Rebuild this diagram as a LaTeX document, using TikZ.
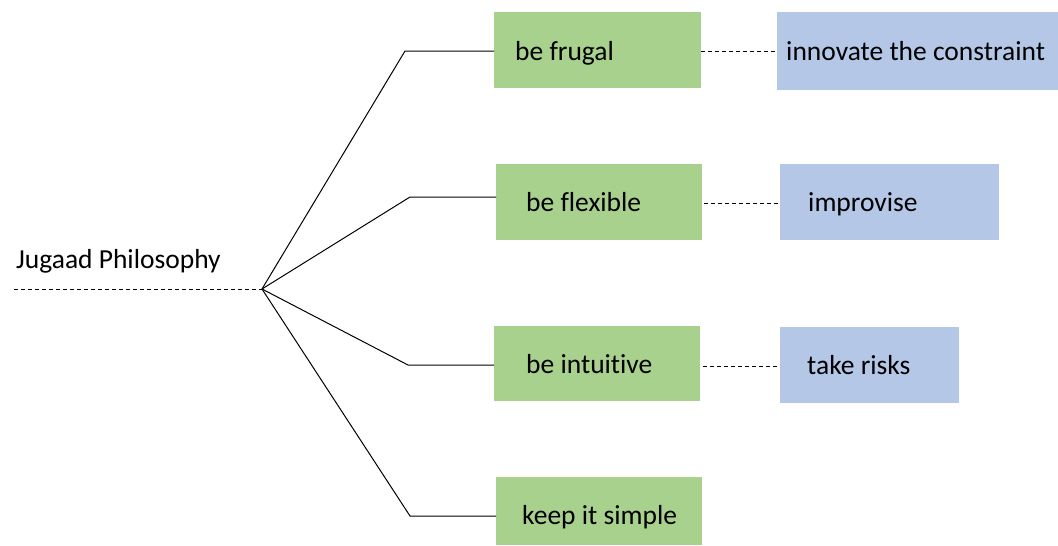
\documentclass[tikz,border=0pt]{standalone}
\usepackage{fontspec}
\setmainfont{Carlito}[Ligatures=NoCommon]
\definecolor{leafgreen}{HTML}{A9D18E}
\definecolor{leafblue}{HTML}{B4C7E7}
\tikzset{
  labelfont/.style={font=\fontsize{27.5}{32}\selectfont},
  boxbase/.style={anchor=north west, inner ysep=0pt, align=flush left,
    labelfont, text height=19pt, text depth=0pt},
  greenbox/.style={boxbase, fill=leafgreen},
  bluebox/.style={boxbase, fill=leafblue},
  branch/.style={black, line width=1pt},
  link/.style={black, line width=0.9pt, dash pattern=on 4pt off 3pt},
}
\begin{document}
\begin{tikzpicture}[x=1pt,y=-1pt]
  \useasboundingbox (0,0) rectangle (1058,546);

  % first column of boxes
  \node[greenbox, minimum height=76pt, inner xsep=21pt, text width=165pt, text height=20pt] (frugal) at (494,12) {\mbox{be frugal}};
  \node[greenbox, minimum height=76pt, inner xsep=30pt, text width=146pt] (flexible) at (496,164) {\mbox{be flexible}};
  \node[greenbox, minimum height=75pt, inner xsep=32pt, text width=142pt] (intuitive) at (494,326) {\mbox{be intuitive}};
  \node[greenbox, minimum height=68pt, inner xsep=26pt, text width=154pt, text height=26pt] (simple) at (496,477) {\mbox{keep it simple}};

  % second column of boxes
  \node[bluebox, minimum height=78pt, inner xsep=9pt, text width=263pt] (innovate) at (777,12) {\mbox{innovate the constraint}};
  \node[bluebox, minimum height=76pt, inner xsep=28pt, text width=163pt] (improvise) at (780,164) {\mbox{improvise}};
  \node[bluebox, minimum height=76pt, inner xsep=27pt, text width=125pt] (risks) at (780,327) {\mbox{take risks}};

  % root
  \coordinate (hub) at (262,289);
  \coordinate (start) at (14,289);
  \node[anchor=base west, inner sep=0pt, labelfont] (root) at (16,268) {Jugaad Philosophy};
  \draw[link] (start) -- (hub);

  % tree branches
  \coordinate (k1) at (405,51);
  \coordinate (k2) at (410,197);
  \coordinate (k3) at (408,365);
  \coordinate (k4) at (410,516);
  \draw[branch] (hub) -- (k1) -- (frugal.west |- k1);
  \draw[branch] (hub) -- (k2) -- (flexible.west |- k2);
  \draw[branch] (hub) -- (k3) -- (intuitive.west |- k3);
  \draw[branch] (hub) -- (k4) -- (simple.west |- k4);

  % dashed links
  \draw[link] (frugal.east |- 0,51) -- (innovate.west |- 0,51);
  \draw[link] ([xshift=2pt]flexible.east |- 0,203) -- (improvise.west |- 0,203);
  \draw[link] ([xshift=3pt]intuitive.east |- 0,366) -- (risks.west |- 0,366);
\end{tikzpicture}
\end{document}
